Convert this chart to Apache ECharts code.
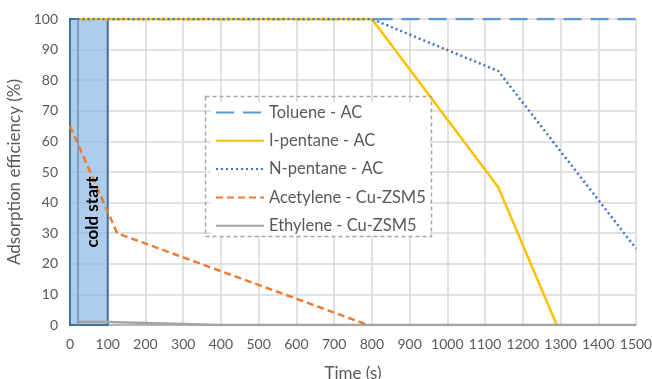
<!DOCTYPE html>
<html><head><meta charset="utf-8">
<script src="https://cdn.jsdelivr.net/npm/echarts@6/dist/echarts.min.js"></script>
<style>html,body{margin:0;padding:0;background:#fff}#c{width:652px;height:379px}</style>
</head><body><div id="c"></div>
<script>
const xTicks = [0,100,200,300,400,500,600,700,800,900,1000,1100,1200,1300,1400,1500];
const seriesNames = ['Toluene - AC','I-pentane - AC','N-pentane - AC','Acetylene - Cu-ZSM5','Ethylene - Cu-ZSM5'];
const toluene = [[20,100],[800,100],[1500,100]];
const ipentane = [[20,100],[800,100],[1135,45],[1290,0]];
const npentane = [[20,100],[800,100],[1135,83],[1500,25]];
const acetylene = [[0,65],[125,30],[790,0]];
const ethylene = [[20,1],[100,1],[400,0],[1500,0]];
const coldStart = [0,100];
const coldLineX = 20;

const F = 'Lato, "Open Sans", sans-serif';
const chart = echarts.init(document.getElementById('c'));
chart.setOption({
  animation:false,
  grid:{left:70,right:16,top:19,bottom:54,outerBoundsMode:'none',containLabel:false},
  xAxis:{type:'value',min:0,max:1500,interval:100,
    name:'Time (s)',nameLocation:'middle',nameGap:40,
    nameTextStyle:{color:'#595959',fontSize:17,fontFamily:F},
    axisLabel:{color:'#595959',fontSize:14,fontFamily:F,margin:12,
      formatter:v=>String(v)},
    axisLine:{lineStyle:{color:'#a6a6a6',width:1.5}},axisTick:{show:false},
    splitLine:{show:true,lineStyle:{color:'#d9d9d9',width:1.5}}},
  yAxis:{type:'value',min:0,max:100,interval:10,
    name:'Adsorption efficiency (%)',nameLocation:'middle',nameGap:44,
    nameTextStyle:{color:'#595959',fontSize:17,fontFamily:F},
    axisLabel:{color:'#595959',fontSize:14,fontFamily:F,margin:12},
    axisLine:{show:false},axisTick:{show:false},
    splitLine:{lineStyle:{color:'#d9d9d9',width:1.5}}},
  legend:{orient:'vertical',left:211,top:102,itemWidth:48,itemHeight:14,itemGap:11.3,
    backgroundColor:'#fff',padding:[2,4,2,4],
    itemStyle:{opacity:0},
    textStyle:{color:'#595959',fontSize:16.5,fontFamily:F},
    data:seriesNames},
  graphic:[
    {type:'rect',z:100,shape:{x:205.5,y:96.5,width:226,height:140},
      style:{fill:null,stroke:'#a6a6a6',lineWidth:1.5,lineDash:[4,3]}},
    {type:'text',z:100,x:93,y:212,rotation:Math.PI/2,
      style:{text:'cold start',align:'center',verticalAlign:'middle',
      font:'bold 17px '+F,fill:'#000'}}
  ],
  series:[
    {name:seriesNames[0],type:'line',symbol:'none',data:toluene,
      lineStyle:{color:'#5b9bd5',width:2.5,type:[18,9]},itemStyle:{color:'#5b9bd5'}},
    {name:seriesNames[1],type:'line',symbol:'none',data:ipentane,
      lineStyle:{color:'#ffc000',width:2.5},itemStyle:{color:'#ffc000'}},
    {name:seriesNames[2],type:'line',symbol:'none',data:npentane,
      lineStyle:{color:'#4472c4',width:2.5,type:[2,3]},itemStyle:{color:'#4472c4'}},
    {name:seriesNames[3],type:'line',symbol:'none',data:acetylene,
      lineStyle:{color:'#ed7d31',width:2.5,type:[7,4]},itemStyle:{color:'#ed7d31'}},
    {name:seriesNames[4],type:'line',symbol:'none',data:ethylene,
      lineStyle:{color:'#a5a5a5',width:2.5},itemStyle:{color:'#a5a5a5'}},
    {name:'cold',type:'line',data:[],z:10,
      markLine:{silent:true,symbol:'none',label:{show:false},
        lineStyle:{color:'#6f8fb0',width:1.5,type:'solid'},
        data:[[{coord:[coldLineX,0]},{coord:[coldLineX,100]}]]},
      markArea:{silent:true,
        itemStyle:{color:'rgba(140,183,227,0.7)',borderColor:'#41719c',borderWidth:2},
        data:[[{coord:[coldStart[0],0]},{coord:[coldStart[1],100]}]]}}
  ]
});
</script></body></html>
